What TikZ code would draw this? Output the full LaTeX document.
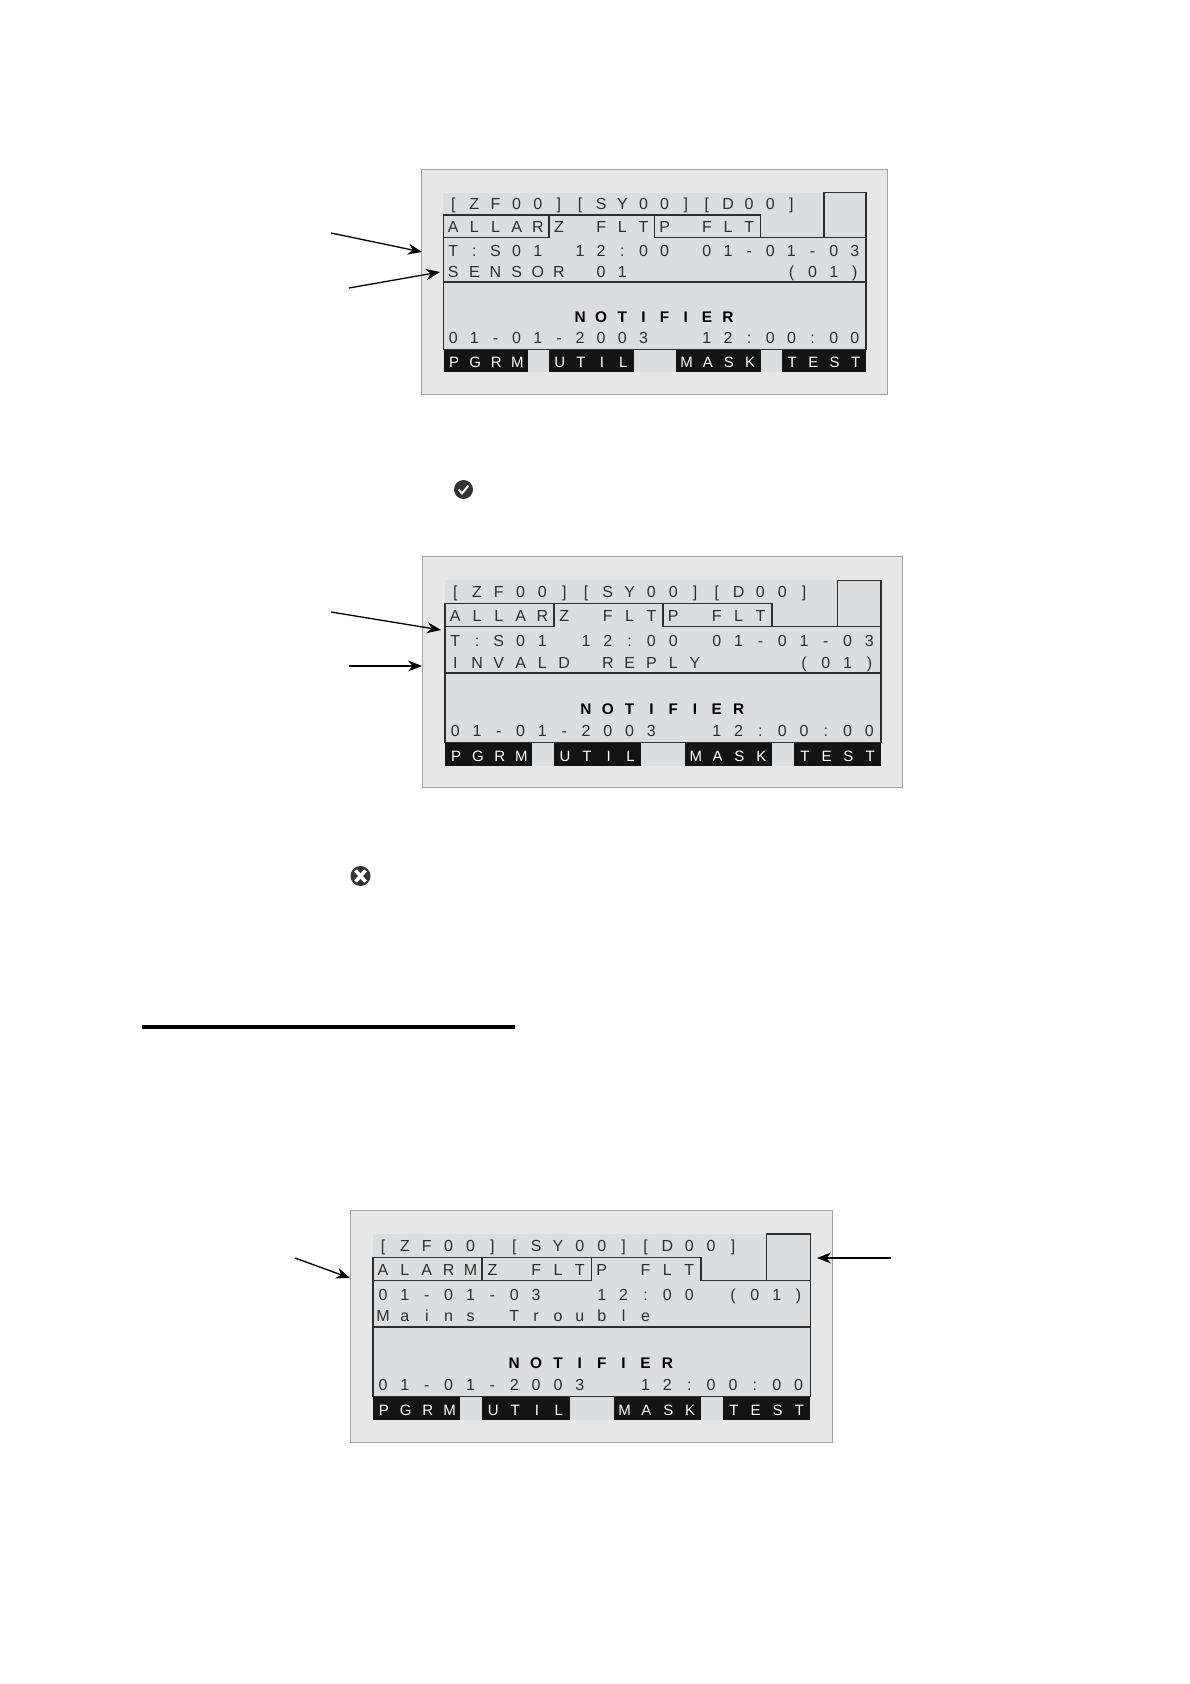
\documentclass[tikz,border=0pt]{standalone}
\usepackage{fontspec}
\usepackage{tikz}
\usetikzlibrary{positioning, arrows.meta}
\setmainfont{Liberation Sans}
\definecolor{panelgray}{HTML}{E7E7E7}
\definecolor{paneledge}{HTML}{A3A3A3}
\definecolor{lcdgray}{HTML}{DCDDDE}
\definecolor{lcdink}{HTML}{2E2E2E}
\definecolor{iconink}{HTML}{333333}
\definecolor{keyink}{HTML}{141414}
\newlength{\lcdcell}
\makeatletter
\newcommand{\lcdrow}[1]{\@tfor\lcdch:=#1\do{\makebox[\lcdcell][c]{\lcdch}}}
\makeatother
\tikzset{
  panelbox/.style={fill=panelgray, draw=paneledge, line width=1pt},
  lcdtext/.style={anchor=base west, inner sep=0pt, text=lcdink, font=\fontsize{16}{18}\selectfont},
  lcdbold/.style={lcdtext, text=black, font=\fontsize{15.4}{18}\selectfont\bfseries},
  softkey/.style={anchor=north west, inner sep=0pt, fill=keyink, text=white, text height=13pt, text depth=0pt, font=\fontsize{15}{18}\selectfont},
  lcdline/.style={draw=lcdink, line width=1.4pt},
  callout/.style={-{Stealth[length=14pt, width=11pt]}, line width=1.3pt, black}
}
% x0, y0, cell width, row height, prefix, tab row, row 3, row 4, first open column
\newcommand{\lcdpanel}[9]{
  \setlength{\lcdcell}{#3pt}
  \begin{scope}[shift={(#1,#2)}, x=#3pt, y=-#4pt, name prefix=#5]
    \fill[lcdgray] (0,0) rectangle (20,8);
    \node[lcdtext] (rowone) at (-0.04,0.755) {\lcdrow{[ZF00][SY00][D00]}};
    \node[lcdtext] (rowtab) at (-0.04,1.775) {\lcdrow{#6}};
    \node[lcdtext] (rowthree) at (-0.04,2.84) {\lcdrow{#7}};
    \node[lcdtext] (rowfour) at (-0.04,3.78) {\lcdrow{#8}};
    \node[lcdbold] (brand) at (-0.04,5.8) {\lcdrow{~~~~~~NOTIFIER}};
    \node[lcdtext] (clock) at (-0.04,6.75) {\lcdrow{01-01-2003~~12:00:00}};
    \node[softkey, minimum width=4*#3pt, minimum height=#4pt] (keypgrm) at (0,7) {\lcdrow{PGRM}};
    \node[softkey, minimum width=4*#3pt, minimum height=#4pt] (keyutil) at (5,7) {\lcdrow{UTIL}};
    \node[softkey, minimum width=4*#3pt, minimum height=#4pt] (keymask) at (11,7) {\lcdrow{MASK}};
    \node[softkey, minimum width=4*#3pt, minimum height=#4pt] (keytest) at (16,7) {\lcdrow{TEST}};
    \draw[lcdline] (18,2) -- (18,0) -- (20,0) -- (20,7) -- (0,7) -- (0,1) -- (15,1) -- (15,2);
    \draw[lcdline] (0,2) -- (#9,2) -- (#9,1);
    \draw[lcdline] (5,1) -- (5,2);
    \pgfmathsetmacro{\gapend}{#9+5}
    \draw[lcdline] (\gapend,1) -- (\gapend,2) -- (20,2);
    \draw[lcdline] (0,4) -- (20,4);
  \end{scope}
}

\begin{document}
\begin{tikzpicture}[x=1pt, y=-1pt]
  \useasboundingbox (0,0) rectangle (1190,1684);

  \filldraw[panelbox] (421.3,169) rectangle (887.5,394);
  \filldraw[panelbox] (422.3,556.5) rectangle (902,787);
  \filldraw[panelbox] (350.3,1210.5) rectangle (832,1442);

  \lcdpanel{443.3}{192.5}{21.14}{22.4}{upper-}{ALLARZ~FLTP~FLT}{T:S01~12:00~01-01-03}{SENSOR~01~~~~~~~(01)}{5}
  \lcdpanel{445}{580.3}{21.8}{23.2}{middle-}{ALLARZ~FLTP~FLT}{T:S01~12:00~01-01-03}{INVALD~REPLY~~~~(01)}{5}
  \lcdpanel{372.8}{1234}{21.87}{23.25}{lower-}{ALARMZ~FLTP~FLT}{01-01-03~~12:00~(01)}{Mains~Trouble}{10}

  \coordinate (upperA) at (331,233);
  \coordinate (upperAtip) at (422,252);
  \coordinate (upperB) at (349,288);
  \coordinate (upperBtip) at (440,272);
  \coordinate (middleA) at (331,612);
  \coordinate (middleAtip) at (441,630);
  \coordinate (middleB) at (349,666);
  \coordinate (middleBtip) at (422,666);
  \coordinate (lowerA) at (295,1258);
  \coordinate (lowerAtip) at (350,1278);
  \coordinate (lowerB) at (891,1258);
  \coordinate (lowerBtip) at (817,1258);

  \draw[callout] (upperA) -- (upperAtip);
  \draw[callout] (upperB) -- (upperBtip);
  \draw[callout] (middleA) -- (middleAtip);
  \draw[callout] (middleB) -- (middleBtip);
  \draw[callout] (lowerA) -- (lowerAtip);
  \draw[callout] (lowerB) -- (lowerBtip);

  % section rule
  \draw[black, line width=3.3pt] (142,1027) -- (515,1027);

  % icons
  \fill[iconink] (463.5,489.5) circle (9.5);
  \draw[white, line width=1.9pt] (458.5,489.5) -- (462,493.5) -- (468.5,485.5);
  \fill[iconink] (360.5,876) circle (10);
  \draw[white, line width=3.6pt] (355.5,870.5) -- (365.5,881.5);
  \draw[white, line width=3.6pt] (365.5,870.5) -- (355.5,881.5);
\end{tikzpicture}
\end{document}
